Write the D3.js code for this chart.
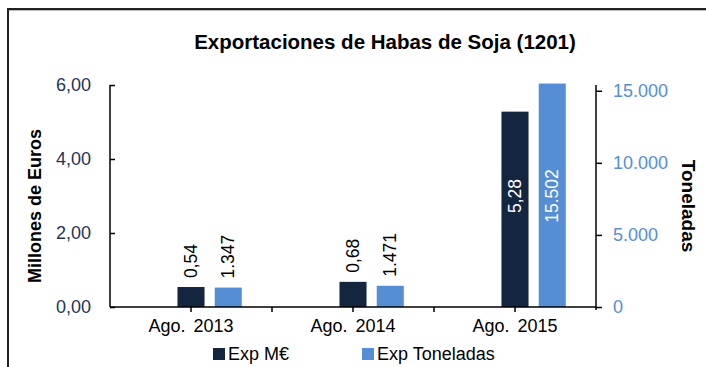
<!DOCTYPE html>
<html>
<head>
<meta charset="utf-8">
<script src="https://cdn.jsdelivr.net/npm/d3@7/dist/d3.min.js"></script>
<style>
  html, body { margin: 0; padding: 0; background: #fff; }
  svg { display: block; font-family: "Liberation Sans", Arial, sans-serif; }
</style>
</head>
<body>
<svg id="chart" width="706" height="367"></svg>
<script>
// Soybean exports (HS 1201), August of each year
const categories = ["Ago. 2013", "Ago. 2014", "Ago. 2015"];
const eurosMillions = [0.54, 0.68, 5.28];      // Exp M€
const tonnes = [1347, 1471, 15502];            // Exp Toneladas
const leftTicks = [0, 2, 4, 6];
const rightTicks = [0, 5000, 10000, 15000];
const seriesNames = ["Exp M€", "Exp Toneladas"];

const colDark = "#13253f";
const colLight = "#558ed5";

const svg = d3.select("#chart");
const W = 706, H = 367;
const plot = { left: 110, right: 596, top: 85, bottom: 307 };

// Chart frame (top and left edges are visible)
svg.append("line").attr("x1", 8).attr("x2", W).attr("y1", 9).attr("y2", 9)
  .attr("stroke", "#222").attr("stroke-width", 2);
svg.append("line").attr("x1", 8).attr("x2", W).attr("y1", 10.5).attr("y2", 10.5)
  .attr("stroke", "#bbb").attr("stroke-width", 1);
svg.append("line").attr("x1", 8).attr("x2", 8).attr("y1", 8).attr("y2", H)
  .attr("stroke", "#222").attr("stroke-width", 2);

const x = d3.scaleBand().domain(categories).range([plot.left, plot.right]).padding(0);
const yL = d3.scaleLinear().domain([0, 6]).range([plot.bottom, plot.top]);
const yR = d3.scaleLinear().domain([0, 15400]).range([plot.bottom, plot.top]);

const bw = x.bandwidth();
const barW = bw * 0.167;
const darkCenter = c => x(c) + bw / 2;
const lightCenter = c => x(c) + bw / 2 + bw * 0.23;

const fmtEur = d3.formatLocale({ decimal: ",", thousands: ".", grouping: [3], currency: ["", "€"] });
const fEur = fmtEur.format(",.2f");
const fTon = fmtEur.format(",.0f");

// Bars
svg.append("g").selectAll("rect").data(categories).join("rect")
  .attr("x", c => darkCenter(c) - barW / 2)
  .attr("width", barW)
  .attr("y", (c, i) => yL(eurosMillions[i]))
  .attr("height", (c, i) => yL(0) - yL(eurosMillions[i]))
  .attr("fill", colDark);

svg.append("g").selectAll("rect").data(categories).join("rect")
  .attr("x", c => lightCenter(c) - barW / 2)
  .attr("width", barW)
  .attr("y", (c, i) => yR(tonnes[i]))
  .attr("height", (c, i) => yR(0) - yR(tonnes[i]))
  .attr("fill", colLight);

// Value labels: rotated, above small bars, inside tall bars
function valueLabel(cx, topY, text, inside) {
  const ty = inside ? (plot.top + plot.bottom) / 2 : topY - 9;
  svg.append("text")
    .attr("transform", `translate(${cx + 6},${ty}) rotate(-90)`)
    .attr("text-anchor", inside ? "middle" : "start")
    .attr("font-size", 17.5)
    .attr("fill", inside ? "#fff" : "#000")
    .text(text);
}
categories.forEach((c, i) => {
  const insideE = eurosMillions[i] > 3;
  valueLabel(darkCenter(c), yL(eurosMillions[i]), fEur(eurosMillions[i]), insideE);
  const insideT = tonnes[i] > 7500;
  valueLabel(lightCenter(c), yR(tonnes[i]), fTon(tonnes[i]), insideT);
});

// Left axis
const axL = svg.append("g").attr("transform", `translate(${plot.left},0)`)
  .call(d3.axisLeft(yL).tickValues(leftTicks).tickFormat(fEur).tickSize(-5).tickPadding(19));
axL.select(".domain").attr("d", `M0,${plot.top}V${plot.bottom}`).attr("stroke", "#000").attr("stroke-width", 1.5);
axL.selectAll(".tick line").attr("stroke", "#000").attr("stroke-width", 1.5);
axL.selectAll(".tick text").attr("font-size", 18).attr("fill", "#1e3556").attr("font-family", "Liberation Sans, Arial, sans-serif");

// Right axis
const axR = svg.append("g").attr("transform", `translate(${plot.right},0)`)
  .call(d3.axisRight(yR).tickValues(rightTicks).tickFormat(fTon).tickSize(6).tickPadding(11));
axR.select(".domain").attr("d", `M0,${plot.top}V${plot.bottom + 3}`).attr("stroke", "#000").attr("stroke-width", 1.5);
axR.selectAll(".tick line").attr("stroke", "#000").attr("stroke-width", 1.5);
axR.selectAll(".tick text").attr("font-size", 18).attr("fill", colLight).attr("font-family", "Liberation Sans, Arial, sans-serif");

// Category axis
const axX = svg.append("g").attr("transform", `translate(0,${plot.bottom})`)
  .call(d3.axisBottom(x).tickSize(5).tickPadding(7));
axX.select(".domain").attr("d", `M${plot.left},0H${plot.right}`).attr("stroke", "#000").attr("stroke-width", 1.5);
axX.selectAll(".tick line").attr("stroke", "#000").attr("stroke-width", 1.5);
axX.selectAll(".tick text").attr("font-size", 18).attr("fill", "#000").attr("font-family", "Liberation Sans, Arial, sans-serif")
  .attr("word-spacing", 3);
// Category boundary ticks
svg.append("g").selectAll("line").data(categories.slice(1)).join("line")
  .attr("x1", c => x(c)).attr("x2", c => x(c))
  .attr("y1", plot.bottom).attr("y2", plot.bottom + 5)
  .attr("stroke", "#000").attr("stroke-width", 1.5);

// Title
svg.append("text").attr("x", 385).attr("y", 49).attr("text-anchor", "middle")
  .attr("font-size", 20.5).attr("font-weight", "bold").text("Exportaciones de Habas de Soja (1201)");

// Axis titles
svg.append("text").attr("transform", `translate(41,206) rotate(-90)`).attr("text-anchor", "middle")
  .attr("font-size", 18).attr("font-weight", "bold").text("Millones de Euros");
svg.append("text").attr("transform", `translate(682,206) rotate(90)`).attr("text-anchor", "middle")
  .attr("font-size", 19).attr("font-weight", "bold").text("Toneladas");

// Legend
const legend = svg.append("g");
const legendX = [213, 362];
seriesNames.forEach((name, i) => {
  legend.append("rect").attr("x", legendX[i]).attr("y", 348).attr("width", 12).attr("height", 12)
    .attr("fill", i === 0 ? colDark : colLight);
  legend.append("text").attr("x", legendX[i] + 15).attr("y", 360).attr("font-size", 18).text(name);
});
</script>
</body>
</html>
